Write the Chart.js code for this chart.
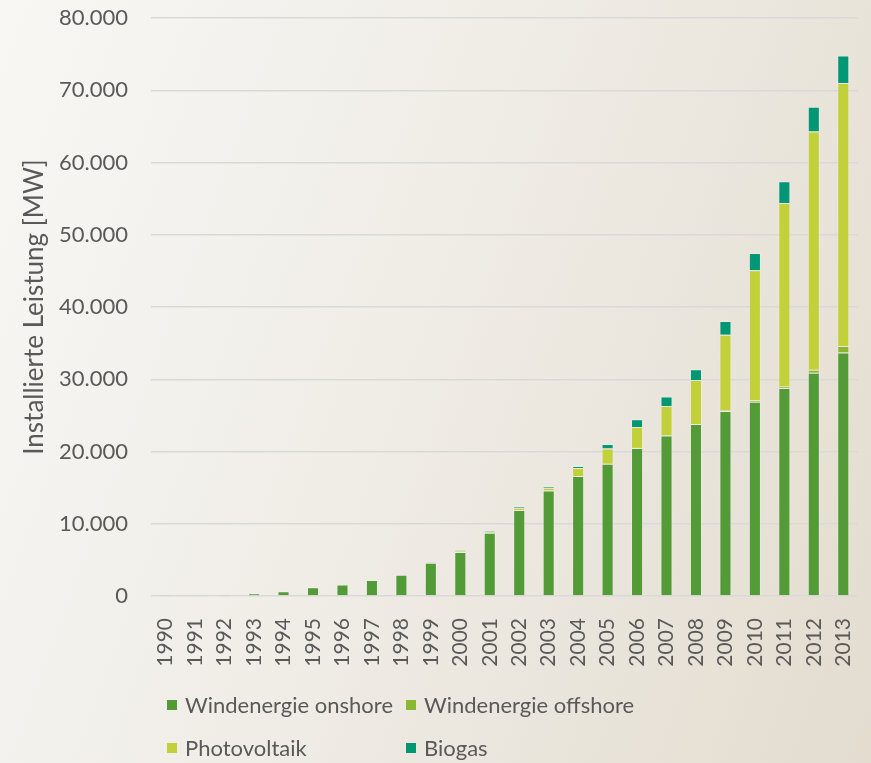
<!DOCTYPE html>
<html>
<head>
<meta charset="utf-8">
<script src="https://cdn.jsdelivr.net/npm/chart.js@4.4.0/dist/chart.umd.min.js"></script>
<style>
html, body { margin: 0; padding: 0; }
body {
    width: 871px; height: 763px; overflow: hidden; position: relative;
    background: linear-gradient(110deg, #f8f7f4 0%, #f0ede7 45%, #e3dccf 100%);
    font-family: Lato, "Open Sans", sans-serif;
}
#myChart { position: absolute; left: 0; top: 0; }
#legend {
    position: absolute; left: 167px; top: 683px;
    display: grid; grid-template-columns: 239px 300px;
    font-size: 22px; line-height: 43px; color: #595959;
}
#legend span.box {
    display: inline-block; width: 10px; height: 10px; margin-right: 8px;
    vertical-align: middle; position: relative; top: -2px;
}
</style>
</head>
<body>
<canvas id="myChart" width="871" height="763"></canvas>
<div id="legend"></div>
<script>
// Installierte Leistung [MW], 1990-2013
var years = ['1990','1991','1992','1993','1994','1995','1996','1997','1998','1999','2000','2001',
             '2002','2003','2004','2005','2006','2007','2008','2009','2010','2011','2012','2013'];
var onshore = [60, 110, 180, 380, 650, 1200, 1600, 2200, 2950, 4600, 6100, 8750,
               11900, 14600, 16600, 18300, 20500, 22200, 23800, 25600, 26900, 28800, 30900, 33700];
var offshore = [0, 0, 0, 0, 0, 0, 0, 0, 0, 0, 0, 0,
                0, 0, 0, 0, 0, 0, 0, 70, 180, 200, 400, 900];
var photovoltaik = [0, 0, 0, 0, 0, 0, 0, 0, 0, 30, 100, 180,
                    300, 400, 1100, 2100, 2900, 4100, 6100, 10500, 18000, 25400, 33000, 36400];
var biogas = [0, 0, 0, 0, 0, 0, 0, 0, 0, 50, 100, 150,
              250, 200, 300, 650, 1050, 1300, 1500, 1900, 2400, 3000, 3400, 3800];
var yTicks = [0, 10000, 20000, 30000, 40000, 50000, 60000, 70000, 80000];

var textColor = '#595959';
var fontFamily = 'Lato, "Open Sans", sans-serif';
var edge = 'rgba(255,255,255,0.22)';

var ctx = document.querySelector('#myChart').getContext('2d');
var chart = new Chart(ctx, {
    type: 'bar',
    data: {
        labels: years,
        datasets: [
            { label: 'Windenergie onshore', data: onshore, backgroundColor: '#529b37', borderColor: edge },
            { label: 'Windenergie offshore', data: offshore, backgroundColor: '#8ab833', borderColor: edge },
            { label: 'Photovoltaik', data: photovoltaik, backgroundColor: '#c2d13a', borderColor: edge },
            { label: 'Biogas', data: biogas, backgroundColor: '#009775', borderColor: edge }
        ]
    },
    options: {
        responsive: false,
        devicePixelRatio: 1,
        animation: false,
        layout: { padding: { top: 18, right: 13, bottom: 97, left: 0 } },
        datasets: {
            bar: { categoryPercentage: 1, barPercentage: 0.41, borderWidth: 1 }
        },
        plugins: {
            legend: { display: false },
            tooltip: { enabled: false }
        },
        scales: {
            x: {
                stacked: true,
                grid: { display: false },
                border: { display: false },
                ticks: {
                    autoSkip: false, minRotation: 90, maxRotation: 90, padding: 14,
                    color: textColor, font: { family: fontFamily, size: 21 }
                },
                afterFit: function (s) { s.height = 70; s.paddingLeft = 0; s.paddingRight = 0; }
            },
            y: {
                stacked: true,
                min: 0, max: 80000,
                afterBuildTicks: function (s) { s.ticks = yTicks.map(function (v) { return { value: v }; }); },
                grid: { color: '#d9d9d9', lineWidth: 1.5, drawTicks: false },
                border: { display: false },
                ticks: {
                    padding: 23, color: textColor, font: { family: fontFamily, size: 22 },
                    callback: function (v) { return v.toLocaleString('de-DE'); }
                },
                title: {
                    display: true, text: 'Installierte Leistung [MW]',
                    color: textColor, font: { family: fontFamily, size: 26 },
                    padding: { top: 19, bottom: 0 }
                },
                afterFit: function (s) { s.width = 151; s.paddingTop = 0; s.paddingBottom = 0; }
            }
        }
    }
});

// HTML legend in two aligned columns, built from the chart's datasets
var legend = document.querySelector('#legend');
chart.data.datasets.forEach(function (ds) {
    var item = document.createElement('div');
    item.innerHTML = '<span class="box" style="background:' + ds.backgroundColor + '"></span>' + ds.label;
    legend.appendChild(item);
});
</script>
</body>
</html>
